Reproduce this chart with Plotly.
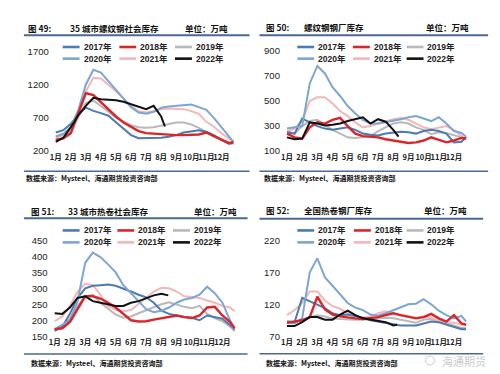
import plotly.graph_objects as go

# ---------------- data ----------------
YEARS = ["2017年", "2018年", "2019年", "2020年", "2021年", "2022年"]
MONTHS = ["1月", "2月", "3月", "4月", "5月", "6月", "7月", "8月", "9月", "10月", "11月", "12月"]
MONTH_POS = [0, 1, 2, 3, 4, 5, 6, 7, 8, 9, 10, 11]
X_HALF = [0, 0.5, 1, 1.5, 2, 2.5, 3, 3.5, 4, 4.5, 5, 5.5, 6, 6.5, 7, 7.5,
          8, 8.5, 9, 9.5, 10, 10.5, 11, 11.5, 11.8]

# 图49 35城市螺纹钢社会库存
P1_2017 = [480, 514, 610, 755, 852, 804, 770, 731, 635, 538, 441, 393, 393, 400, 400, 417, 441, 480, 500, 514, 490, 441, 369, 310, 318]
P1_2018 = [370, 390, 470, 780, 1070, 1040, 930, 820, 720, 630, 560, 500, 470, 460, 450, 445, 440, 440, 440, 450, 480, 430, 370, 320, 335]
P1_2019 = [370, 400, 500, 720, 920, 960, 880, 790, 700, 640, 590, 560, 550, 560, 580, 610, 630, 630, 600, 550, 480, 420, 370, 330, 330]
P1_2020 = [420, 460, 560, 820, 1200, 1420, 1380, 1250, 1120, 990, 860, 780, 760, 790, 850, 870, 880, 900, 900, 860, 820, 700, 560, 420, 340]
P1_2021 = [400, 440, 560, 800, 1100, 1300, 1290, 1200, 1100, 990, 880, 800, 780, 800, 830, 840, 840, 830, 800, 760, 640, 570, 470, 380, 340]
P1_X22 = [0, 0.5, 1, 1.5, 2, 2.5, 3, 3.5, 4, 4.5, 5, 5.5, 6, 6.5, 7, 7.25]
P1_2022 = [340, 400, 560, 740, 880, 1000, 980, 975, 965, 940, 900, 860, 830, 880, 720, 570]

# 图50 螺纹钢钢厂库存
P2_2017 = [250, 240, 360, 330, 300, 280, 270, 280, 290, 270, 240, 230, 225, 240, 250, 255, 250, 240, 260, 270, 260, 240, 170, 175, 215]
P2_2018 = [240, 210, 200, 290, 330, 320, 350, 365, 300, 240, 220, 215, 210, 195, 185, 175, 165, 170, 185, 210, 190, 170, 185, 205, 200]
P2_2019 = [260, 240, 300, 340, 350, 310, 270, 240, 210, 205, 210, 220, 260, 290, 320, 330, 320, 290, 270, 235, 250, 245, 230, 210, 200]
P2_2020 = [280, 290, 300, 640, 780, 720, 610, 540, 460, 400, 350, 320, 320, 330, 340, 355, 370, 380, 360, 340, 370, 320, 260, 245, 215]
P2_2021 = [260, 280, 340, 500, 530, 530, 480, 420, 380, 330, 290, 300, 320, 340, 355, 365, 350, 320, 290, 275, 290, 300, 270, 220, 190]
P2_X22 = [0, 0.5, 1, 1.5, 2, 2.5, 3, 3.5, 4, 4.5, 5, 5.5, 6, 6.5, 7, 7.35]
P2_2022 = [210, 195, 200, 330, 320, 305, 310, 320, 340, 355, 370, 320, 355, 335, 270, 215]

# 图51 33城市热卷社会库存
P3_2017 = [168, 180, 220, 270, 300, 308, 310, 312, 308, 300, 290, 280, 272, 255, 230, 220, 215, 210, 208, 200, 215, 210, 205, 185, 172]
P3_2018 = [172, 175, 195, 235, 275, 275, 268, 255, 240, 220, 200, 196, 197, 202, 207, 212, 215, 210, 207, 215, 240, 242, 215, 195, 175]
P3_2019 = [166, 182, 205, 245, 275, 280, 255, 235, 218, 208, 212, 222, 232, 242, 250, 256, 248, 242, 238, 245, 220, 207, 197, 180, 166]
P3_2020 = [172, 185, 200, 260, 380, 412, 398, 375, 350, 310, 285, 260, 235, 225, 230, 240, 255, 265, 270, 280, 305, 285, 255, 200, 168]
P3_2021 = [197, 212, 245, 290, 315, 310, 280, 245, 232, 228, 232, 250, 270, 290, 302, 300, 290, 275, 272, 270, 262, 255, 245, 240, 228]
P3_X22 = [0, 0.5, 1, 1.5, 2, 2.5, 3, 3.5, 4, 4.5, 5, 5.5, 6, 6.5, 7, 7.45]
P3_2022 = [222, 220, 240, 270, 275, 260, 255, 249, 245, 245, 255, 260, 268, 278, 283, 278]

# 图52 全国热卷钢厂库存
P4_2017 = [93, 92, 130, 125, 119, 114, 106, 103, 104, 102, 99, 95, 93, 90, 88, 87, 87, 87, 90, 93, 92, 88, 84, 81, 81]
P4_2018 = [91, 93, 95, 100, 132, 112, 104, 101, 99, 98, 97, 98, 100, 103, 106, 103, 100, 98, 100, 105, 98, 93, 103, 90, 88]
P4_2019 = [93, 93, 96, 100, 103, 101, 98, 97, 96, 96, 96, 97, 99, 99, 98, 96, 93, 91, 96, 97, 94, 90, 87, 83, 83]
P4_2020 = [92, 90, 98, 170, 192, 162, 149, 136, 122, 115, 111, 104, 102, 106, 111, 116, 120, 121, 128, 120, 110, 103, 98, 102, 93]
P4_2021 = [103, 111, 122, 140, 140, 126, 117, 113, 106, 102, 99, 101, 106, 109, 106, 102, 101, 99, 101, 99, 94, 91, 91, 88, 88]
P4_X22 = [0, 0.5, 1, 1.5, 2, 2.5, 3, 3.5, 4, 4.5, 5, 5.5, 6, 6.5, 7, 7.25]
P4_2022 = [86, 86, 92, 100, 100, 96, 96, 104, 110, 103, 98, 96, 93, 92, 87, 88]

P1_TICKS = [200, 700, 1200, 1700]
P2_TICKS = [100, 300, 500, 700, 900]
P3_TICKS = [150, 200, 250, 300, 350, 400, 450]
P4_TICKS = [70, 120, 170, 220]

FIG_NOS = ["图 49:", "图 50:", "图 51:", "图 52:"]
FIG_TITLES = ["35 城市螺纹钢社会库存", "螺纹钢钢厂库存", "33 城市热卷社会库存", "全国热卷钢厂库存"]
UNIT = "单位：万吨"
SOURCE = "数据来源：Mysteel、海通期货投资咨询部"
WATERMARK = "海通期货"

# ---------------- styling ----------------
W, H = 500, 374
COLORS = ["#4c7bb0", "#d8262b", "#b9b9b9", "#7da6d2", "#f4b7b9", "#111111"]
WIDTHS = [2.0, 2.4, 2.0, 2.0, 2.0, 2.0]
CJK = "Noto Sans CJK SC, Liberation Sans, sans-serif"
LAT = "Liberation Sans, Arial, sans-serif"
RULE = "#4a6994"


def fx(p):
    return p / W


def fy(p):
    return 1 - p / H


panels = [
    dict(series=[P1_2017, P1_2018, P1_2019, P1_2020, P1_2021], x22=P1_X22, s22=P1_2022,
         ticks=P1_TICKS, xdom=(42, 226.8), ydom=(141.3, 38.3), yr=(200, 1700),
         left=13, right=240, top_rule=22, bot_rule=162, title_y=14, src_y=169,
         no_x=15, title_x=57, unit_x=173, src_x=13, leg_x=(52, 109, 165), leg_y=(34, 46)),
    dict(series=[P2_2017, P2_2018, P2_2019, P2_2020, P2_2021], x22=P2_X22, s22=P2_2022,
         ticks=P2_TICKS, xdom=(274.6, 460.9), ydom=(141.3, 38.0), yr=(100, 900),
         left=250, right=480, top_rule=22, bot_rule=162, title_y=13, src_y=169,
         no_x=255, title_x=293, unit_x=415, src_x=253, leg_x=(288, 344, 398), leg_y=(34, 46)),
    dict(series=[P3_2017, P3_2018, P3_2019, P3_2020, P3_2021], x22=P3_X22, s22=P3_2022,
         ticks=P3_TICKS, xdom=(40.9, 228.0), ydom=(332.0, 233.3), yr=(150, 450),
         left=13, right=238, top_rule=210.5, bot_rule=350.3, title_y=203, src_y=360,
         no_x=18, title_x=55, unit_x=182, src_x=18, leg_x=(52, 107, 163), leg_y=(223, 235.3)),
    dict(series=[P4_2017, P4_2018, P4_2019, P4_2020, P4_2021], x22=P4_X22, s22=P4_2022,
         ticks=P4_TICKS, xdom=(274.6, 460.9), ydom=(332.0, 233.3), yr=(70, 220),
         left=250, right=475, top_rule=211, bot_rule=350, title_y=202, src_y=360,
         no_x=255, title_x=293, unit_x=413, src_x=255, leg_x=(288, 345, 398), leg_y=(223, 235.3)),
]

fig = go.Figure()
shapes = []
annotations = []
layout_axes = {}

for i, p in enumerate(panels):
    k = "" if i == 0 else str(i + 1)
    xa, ya = "x" + k, "y" + k
    order = [2, 4, 0, 3, 1]  # draw light lines first
    for j in order:
        fig.add_trace(go.Scatter(x=X_HALF, y=p["series"][j], xaxis=xa, yaxis=ya, mode="lines",
                                 line=dict(color=COLORS[j], width=WIDTHS[j]), showlegend=False,
                                 name=YEARS[j]))
    fig.add_trace(go.Scatter(x=p["x22"], y=p["s22"], xaxis=xa, yaxis=ya, mode="lines",
                             line=dict(color=COLORS[5], width=WIDTHS[5]), showlegend=False,
                             name=YEARS[5]))

    layout_axes["xaxis" + k] = dict(
        domain=[fx(p["xdom"][0]), fx(p["xdom"][1])], range=[-0.2, 12], anchor=ya,
        tickmode="array", tickvals=MONTH_POS, ticktext=MONTHS, showgrid=False, zeroline=False,
        showline=False, ticks="", ticklabelstandoff=0, tickangle=0,
        tickfont=dict(family=CJK, size=7.5, color="#222", weight="bold"))
    layout_axes["yaxis" + k] = dict(
        domain=[fy(p["ydom"][0]), fy(p["ydom"][1])], range=list(p["yr"]), anchor=xa,
        tickmode="array", tickvals=p["ticks"], showgrid=False, zeroline=False, showline=False,
        ticks="", ticklabelstandoff=3,
        tickfont=dict(family=LAT, size=9.5, color="#222"))

    shapes.append(dict(type="line", xref="paper", yref="paper", x0=fx(p["left"]), x1=fx(p["right"]),
                       y0=fy(p["top_rule"]), y1=fy(p["top_rule"]), line=dict(color=RULE, width=2)))
    shapes.append(dict(type="line", xref="paper", yref="paper", x0=fx(p["left"]), x1=fx(p["right"]),
                       y0=fy(p["bot_rule"]), y1=fy(p["bot_rule"]), line=dict(color=RULE, width=1.6)))
    for txt, xx in ((FIG_NOS[i], p["no_x"]), (FIG_TITLES[i], p["title_x"]), (UNIT, p["unit_x"])):
        annotations.append(dict(text=txt, xref="paper", yref="paper", x=fx(xx), y=fy(p["title_y"]),
                                xanchor="left", yanchor="middle", showarrow=False,
                                font=dict(family=CJK, size=8.5, color="#111", weight="bold")))
    annotations.append(dict(text=SOURCE, xref="paper", yref="paper", x=fx(p["src_x"]), y=fy(p["src_y"]),
                            xanchor="left", yanchor="middle", showarrow=False,
                            font=dict(family=CJK, size=7, color="#111", weight="bold")))
    for j, yr in enumerate(YEARS):
        col, row = j % 3, j // 3
        lx = p["leg_x"][col]
        ly = p["leg_y"][row]
        shapes.append(dict(type="line", xref="paper", yref="paper", x0=fx(lx), x1=fx(lx + 17),
                           y0=fy(ly), y1=fy(ly), line=dict(color=COLORS[j], width=2.6)))
        annotations.append(dict(text=yr, xref="paper", yref="paper", x=fx(lx + 19), y=fy(ly),
                                xanchor="left", yanchor="middle", showarrow=False,
                                font=dict(family=LAT + ", " + CJK, size=8.5, color="#222", weight="bold")))

annotations.append(dict(text=WATERMARK, xref="paper", yref="paper", x=fx(456), y=fy(357),
                        xanchor="center", yanchor="middle", showarrow=False,
                        font=dict(family=CJK, size=11, color="#cccccc")))
shapes.append(dict(type="circle", xref="paper", yref="paper", x0=fx(417), x1=fx(426),
                   y0=fy(361.5), y1=fy(352.5), line=dict(color="#cccccc", width=1)))

fig.update_layout(width=W, height=H, margin=dict(l=0, r=0, t=0, b=0),
                  paper_bgcolor="white", plot_bgcolor="white", showlegend=False,
                  shapes=shapes, annotations=annotations, **layout_axes)

fig.write_html("out.html")
